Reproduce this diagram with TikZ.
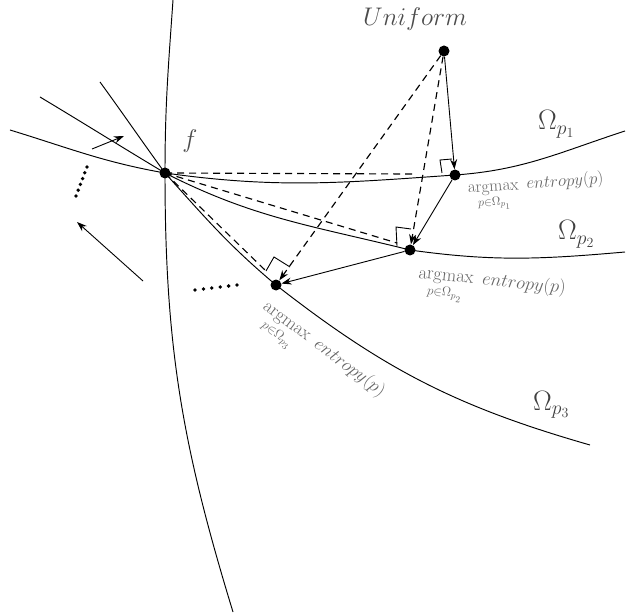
\RequirePackage{fix-cm}
\documentclass[tikz,border=0pt]{standalone}
\usepackage{amsmath}
\usetikzlibrary{arrows.meta}
\begin{document}
\begin{tikzpicture}[x=1pt,y=1pt,
  dotnode/.style={circle,fill=black,inner sep=0pt,minimum size=11pt},
  curve/.style={line width=0.95pt},
  dashline/.style={line width=1.15pt,dash pattern=on 7pt off 5pt},
  arr/.style={line width=0.9pt,-{Stealth[length=10pt,width=7pt]}},
  rightangle/.style={line width=0.9pt},
  biglab/.style={inner sep=0pt,text=black!70,font=\fontsize{25.5}{30}\selectfont},
  omlab/.style={inner sep=0pt,text=black!75,font=\fontsize{28}{32}\selectfont},
  arglab/.style={inner sep=0pt,text=black!60,font=\fontsize{17}{20}\selectfont},
  arglabb/.style={inner sep=0pt,text=black!60,font=\fontsize{18.5}{22}\selectfont}]
\useasboundingbox (0,0) rectangle (626,614);

% points
\node[dotnode] (f) at (165,441) {};
\node[dotnode] (U) at (444,563) {};
\node[dotnode] (p1) at (455,439) {};
\node[dotnode] (p2) at (410,364) {};
\node[dotnode] (p3) at (276,329) {};

% vertical curve
\coordinate (vtop) at (173,614);
\coordinate (vbot) at (233,2);
\draw[curve] (vtop) to[out=-94,in=90] (f.center) to[out=-90,in=107] (vbot);

% Omega curves
\coordinate (a1) at (10,484);  \coordinate (b1) at (625,483);
\coordinate (a2) at (40,517);  \coordinate (b2) at (625,362);
\coordinate (a3) at (100,532); \coordinate (b3) at (590,169);
\draw[curve] (a1) to[out=-17,in=170] (f.center) to[out=-8,in=184] (p1.center) to[out=4,in=198] (b1);
\draw[curve] (a2) to[out=-31,in=149] (f.center) to[out=-27,in=166] (p2.center) to[out=-8,in=185] (b2);
\draw[curve] (a3) to[out=-54,in=126] (f.center) to[out=-48,in=140] (p3.center) to[out=-38,in=164] (b3);

% dashed lines from f
\coordinate (d1) at (412,440);
\coordinate (d2) at (397,371);
\coordinate (d3) at (266,343);
\draw[dashline] (f.center) -- (d1);
\draw[dashline] (f.center) -- (d2);
\draw[dashline] (f.center) -- (d3);

% right-angle marks
\draw[rightangle] (442,441) -- (440,454) -- (452,455);
\draw[rightangle] (397,368) -- (396,387) -- (411,385);
\draw[rightangle] (266,343) -- (274,357) -- (290,347);

% arrows
\draw[arr] (U) -- (p1);
\draw[arr] (p1) -- (p2);
\draw[arr] (p2) -- (p3);
\draw[arr,dashline] (U) -- (p2);
\draw[arr,dashline] (U) -- (p3);

% free arrows
\coordinate (s1) at (92,465);  \coordinate (s2) at (124,478);
\coordinate (l1) at (143,333); \coordinate (l2) at (77,392);
\draw[arr] (s1) -- (s2);
\draw[arr] (l1) -- (l2);

% dotted marks
\foreach \i in {0,...,5} {
  \fill ({87-11*\i/5},{447-29*\i/5}) circle (1.9);
  \fill ({195+42*\i/5},{324+5*\i/5}) circle (1.9);
}

% labels
\node[biglab,anchor=base west] (uni) at (363,588) {$Uniform$};
\node[biglab] (flab) at (190,473) {$f$};
\node[omlab,anchor=base west] (o1) at (538,484) {$\Omega_{p_1}$};
\node[omlab,anchor=base west] (o2) at (558,374) {$\Omega_{p_2}$};
\node[omlab,anchor=base west] (o3) at (533,204) {$\Omega_{p_3}$};
\node[arglab,rotate=4,anchor=base west] (L1) at (468,421) {$\displaystyle\operatorname*{argmax}_{p\in\Omega_{p_1}}\ entropy(p)$};
\node[arglabb,rotate=-6,anchor=base west] (L2) at (418,336) {$\displaystyle\operatorname*{argmax}_{p\in\Omega_{p_2}}\ entropy(p)$};
\node[arglabb,rotate=-37,anchor=base west] (L3) at (262,306) {$\displaystyle\operatorname*{argmax}_{p\in\Omega_{p_3}}\ entropy(p)$};
\end{tikzpicture}
\end{document}
